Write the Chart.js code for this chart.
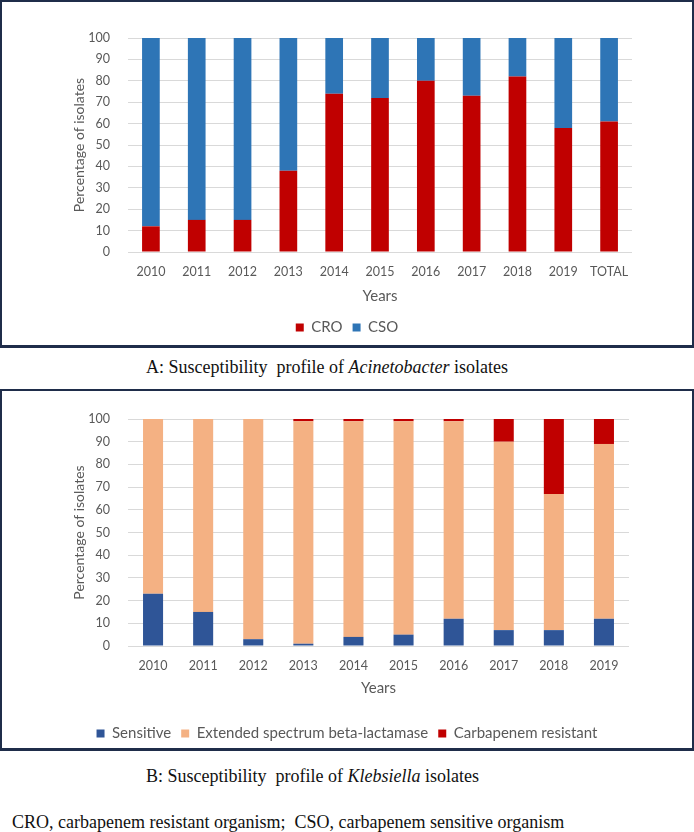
<!DOCTYPE html>
<html>
<head>
<meta charset="utf-8">
<script src="https://cdn.jsdelivr.net/npm/chart.js@4"></script>
<style>
  body { margin: 0; background: #fff; width: 694px; height: 832px; position: relative; overflow: hidden; }
  .frame { position: absolute; left: 0; width: 694px; }
  .frame canvas { position: absolute; left: 0; top: 0; }
  .edge { position: absolute; left: 0; top: 0; right: 0; bottom: 0; border: 2px solid #1f2d4a; border-bottom-width: 3px; pointer-events: none; }
  .cap { position: absolute; font-family: "Liberation Serif", serif; font-size: 18px; line-height: 20px; color: #111; white-space: pre; }
</style>
</head>
<body>
<div class="frame" id="fa" style="top:0;height:348px">
  <canvas id="chartA" width="694" height="348"></canvas>
  <div class="edge"></div>
</div>
<div class="cap" style="left:146px;top:357px">A: Susceptibility  profile of <i>Acinetobacter</i> isolates</div>
<div class="frame" id="fb" style="top:389px;height:362px">
  <canvas id="chartB" width="694" height="362"></canvas>
  <div class="edge"></div>
</div>
<div class="cap" style="left:146px;top:766px">B: Susceptibility  profile of <i>Klebsiella</i> isolates</div>
<div class="cap" style="left:12px;top:812px">CRO, carbapenem resistant organism;  CSO, carbapenem sensitive organism</div>

<script>
let yearsA = ["2010", "2011", "2012", "2013", "2014", "2015", "2016", "2017", "2018", "2019", "TOTAL"];
let croValues = [12, 15, 15, 38, 74, 72, 80, 73, 82, 58, 61];
let csoValues = [88, 85, 85, 62, 26, 28, 20, 27, 18, 42, 39];

let yearsB = ["2010", "2011", "2012", "2013", "2014", "2015", "2016", "2017", "2018", "2019"];
let sensitiveValues = [23, 15, 3, 1, 4, 5, 12, 7, 7, 12];
let esblValues = [77, 85, 97, 98, 95, 94, 87, 83, 60, 77];
let carbaValues = [0, 0, 0, 1, 1, 1, 1, 10, 33, 11];

let yTicks = [0, 10, 20, 30, 40, 50, 60, 70, 80, 90, 100];

let grey = "#595959";
let fontName = "Lato";

// rightGap: empty space right of the plot, kept as an invisible axis so the legend stays centred on the canvas
let makeOptions = (pad, rightGap, xHeight, titleBottom) => ({
  responsive: false,
  animation: false,
  layout: { padding: pad },
  plugins: {
    legend: {
      position: "bottom",
      labels: {
        boxWidth: 8,
        boxHeight: 8,
        padding: 10,
        color: grey,
        font: { family: fontName, size: 15 },
      },
    },
    tooltip: { enabled: false },
  },
  scales: {
    x: {
      stacked: true,
      grid: { display: false, drawTicks: false },
      border: { display: false },
      ticks: { color: grey, padding: 12, font: { family: fontName, size: 12.5 } },
      title: {
        display: true,
        text: "Years",
        color: grey,
        padding: { top: 0, bottom: titleBottom },
        font: { family: fontName, size: 15 },
      },
      afterFit: (scale) => { scale.height = xHeight; },
    },
    y: {
      stacked: true,
      min: 0,
      max: 100,
      afterBuildTicks: (scale) => { scale.ticks = yTicks.map((v) => ({ value: v })); },
      grid: { color: "#d9d9d9", drawTicks: false },
      border: { display: false },
      ticks: { color: grey, padding: 18, font: { family: fontName, size: 12.5 } },
      title: {
        display: true,
        text: "Percentage of isolates",
        color: grey,
        padding: { top: 71, bottom: 0 },
        font: { family: fontName, size: 14 },
      },
      afterFit: (scale) => { scale.width = 128; },
    },
    gap: {
      position: "right",
      min: 0,
      max: 100,
      grid: { display: false, drawTicks: false },
      border: { display: false },
      ticks: { display: false },
      afterFit: (scale) => { scale.width = rightGap; },
    },
  },
});

new Chart(document.getElementById("chartA"), {
  type: "bar",
  data: {
    labels: yearsA,
    datasets: [
      { label: "CRO", data: croValues, backgroundColor: "#c00000", barPercentage: 0.386, categoryPercentage: 1 },
      { label: "CSO", data: csoValues, backgroundColor: "#2e75b6", barPercentage: 0.386, categoryPercentage: 1 },
    ],
  },
  options: makeOptions({ left: 0, right: 0, top: 38, bottom: 3 }, 62, 58, 5),
});

new Chart(document.getElementById("chartB"), {
  type: "bar",
  data: {
    labels: yearsB,
    datasets: [
      { label: "Sensitive", data: sensitiveValues, backgroundColor: "#2f5597", barPercentage: 0.4, categoryPercentage: 1 },
      { label: "Extended spectrum beta-lactamase", data: esblValues, backgroundColor: "#f4b183", barPercentage: 0.4, categoryPercentage: 1 },
      { label: "Carbapenem resistant", data: carbaValues, backgroundColor: "#c00000", barPercentage: 0.4, categoryPercentage: 1 },
    ],
  },
  options: makeOptions({ left: 0, right: 0, top: 30, bottom: 0 }, 65, 70, 19),
});
</script>
</body>
</html>
